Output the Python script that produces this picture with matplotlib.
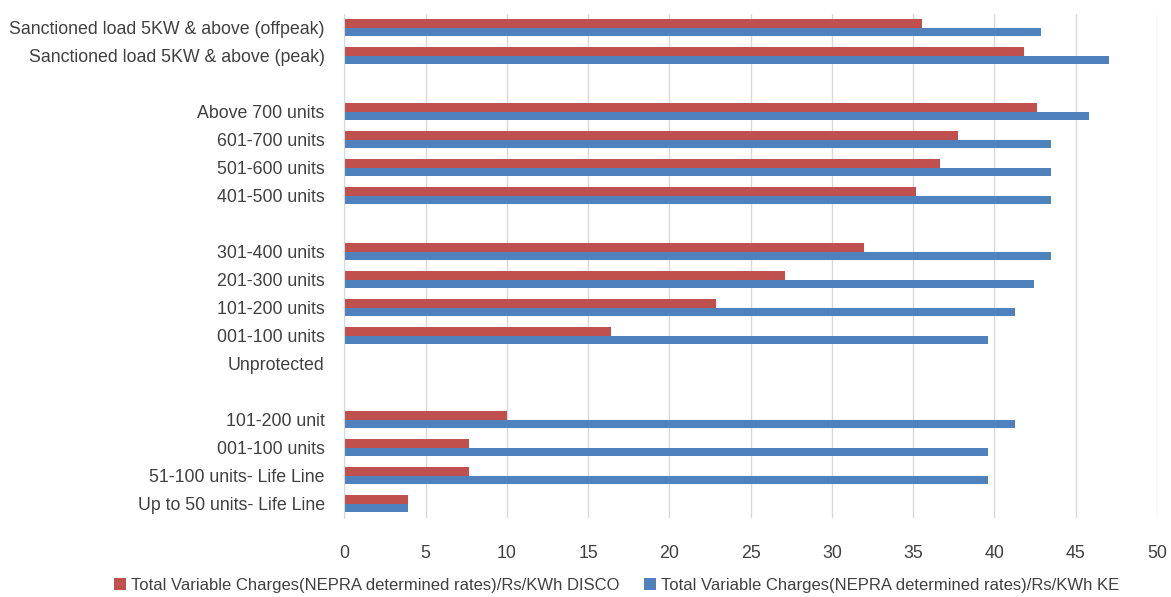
import numpy as np
import matplotlib.pyplot as plt

# categories from bottom to top ("" = empty spacer row)
categories = [
    "Up to 50 units- Life Line",
    "51-100 units- Life Line",
    "001-100 units",
    "101-200 unit",
    "",
    "Unprotected",
    "001-100 units",
    "101-200 units",
    "201-300 units",
    "301-400 units",
    "",
    "401-500 units",
    "501-600 units",
    "601-700 units",
    "Above 700 units",
    "",
    "Sanctioned load 5KW & above (peak)",
    "Sanctioned load 5KW & above (offpeak)",
]
disco = [3.9, 7.7, 7.7, 10.0, np.nan, np.nan, 16.4, 22.9, 27.1, 32.0,
         np.nan, 35.2, 36.65, 37.75, 42.65, np.nan, 41.85, 35.55]
ke = [3.95, 39.6, 39.6, 41.25, np.nan, np.nan, 39.6, 41.25, 42.45, 43.5,
      np.nan, 43.5, 43.5, 43.5, 45.85, np.nan, 47.05, 42.85]

red = "#C0504D"
blue = "#4F81BD"

fig, ax = plt.subplots(figsize=(11.71, 5.97), dpi=100)
fig.subplots_adjust(left=0.294, right=0.988, top=0.977, bottom=0.133)

y = np.arange(len(categories))
h = 0.31
ax.barh(y + h / 2, disco, height=h, color=red,
        label="Total Variable Charges(NEPRA determined rates)/Rs/KWh DISCO")
ax.barh(y - h / 2, ke, height=h, color=blue,
        label="Total Variable Charges(NEPRA determined rates)/Rs/KWh KE")

ax.set_yticks(y)
ax.set_yticklabels(categories, fontsize=12.8, color="#404040", family="Liberation Sans")
ax.set_ylim(-0.5, len(categories) - 0.5)
ax.set_xlim(0, 50)
ax.set_xticks(range(0, 51, 5))
ax.tick_params(axis="x", labelsize=12.8, labelcolor="#404040", length=0, pad=20)
ax.tick_params(axis="y", length=0, pad=14)
for lbl in ax.get_xticklabels():
    lbl.set_family("Liberation Sans")

ax.grid(axis="x", color="#D9D9D9", linewidth=1)
ax.set_axisbelow(True)
for s in ["top", "right", "bottom"]:
    ax.spines[s].set_visible(False)
ax.spines["left"].set_color("#D9D9D9")

ax.legend(loc="upper center", bbox_to_anchor=(0.335, -0.09), ncol=2, frameon=False,
          prop={"family": "Liberation Sans", "size": 12}, handlelength=0.7,
          handleheight=0.7, handletextpad=0.3, columnspacing=1.5, labelcolor="#404040")

fig.savefig("out.png", dpi=100)
